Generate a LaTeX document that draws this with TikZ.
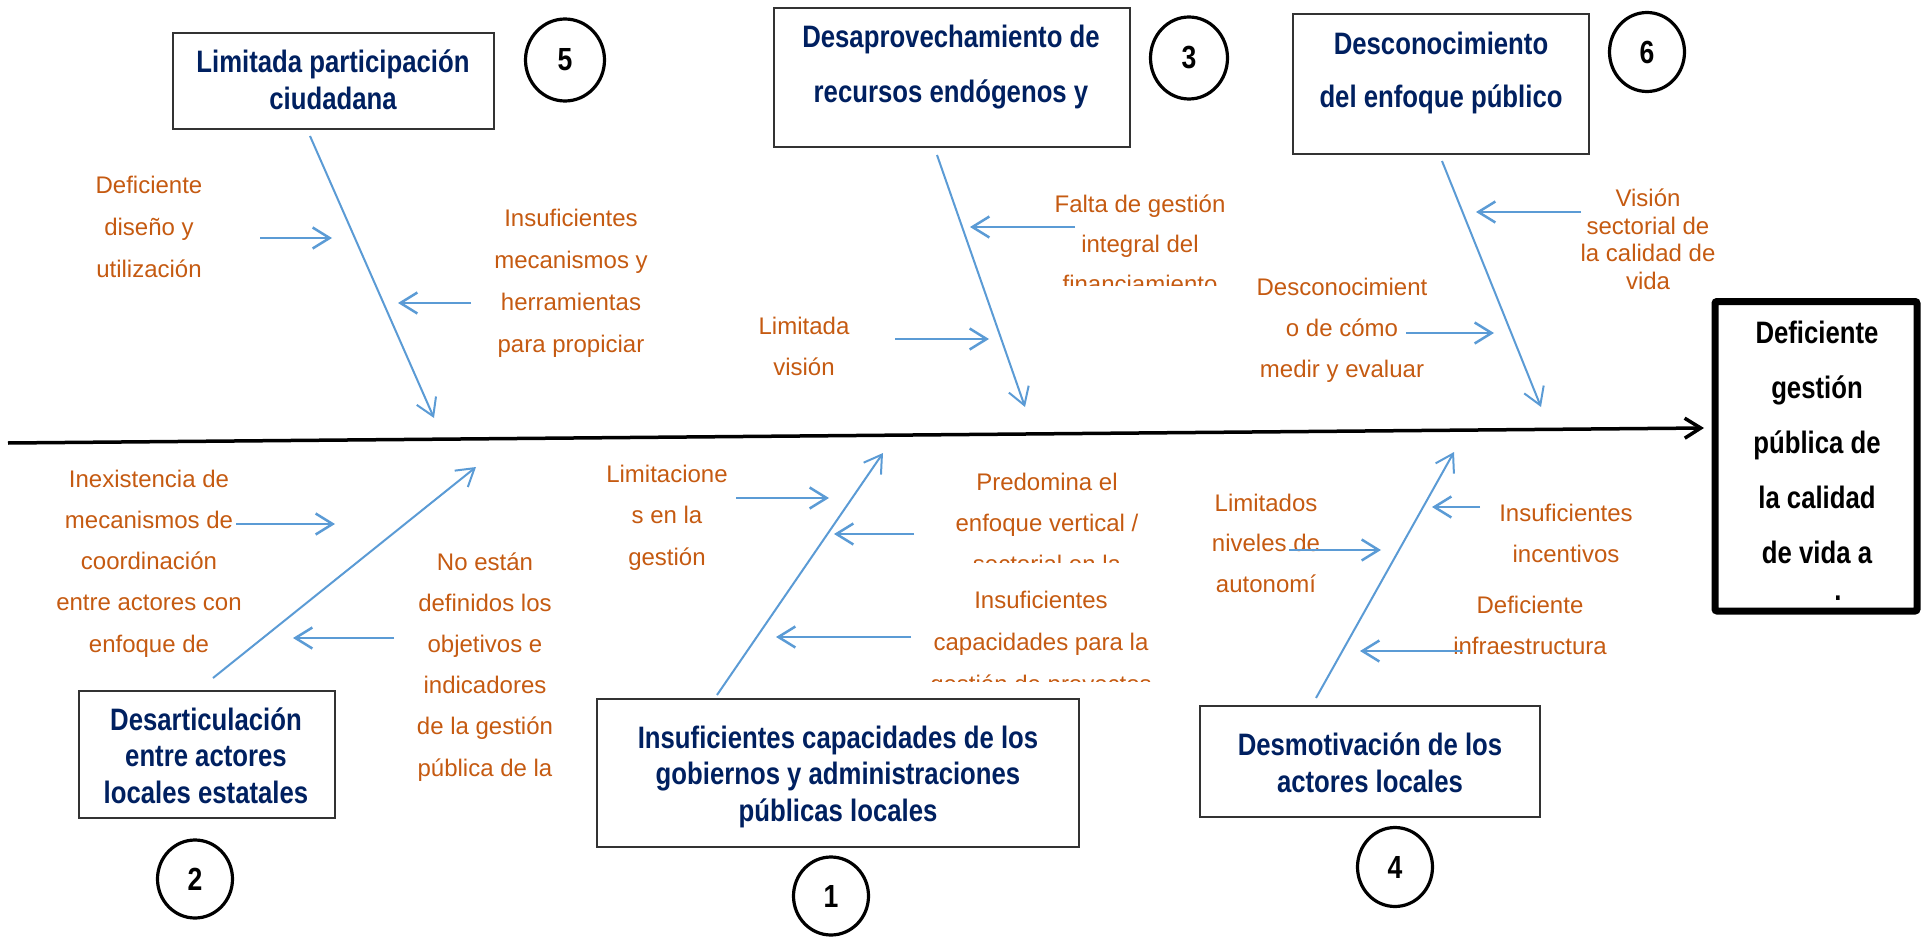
\documentclass[tikz,border=0pt]{standalone}
\usepackage{fontspec}
\setmainfont{Liberation Sans}
\newfontfamily\headfont[FakeStretch=0.83]{Liberation Sans}
\usetikzlibrary{arrows.meta,shapes.geometric}
\definecolor{causeorange}{HTML}{C55A11}
\definecolor{branchblue}{HTML}{5B9BD5}
\definecolor{headnavy}{HTML}{002060}
\begin{document}
\begin{tikzpicture}[x=1pt,y=-1pt,
  cause/.style={text=causeorange, font=\fontsize{24}{41.5}\selectfont, align=center, inner sep=0pt, anchor=base},
  head/.style={text=headnavy, font=\headfont\bfseries\fontsize{31}{37}\selectfont, align=center, inner sep=0pt, anchor=base},
  hbox/.style={draw=black!80, line width=1.5pt, inner sep=0pt},
  effbox/.style={draw=black, line width=7pt, rounded corners=2pt, inner sep=0pt},
  numc/.style={ellipse, draw=black, line width=3.2pt, inner sep=0pt, font=\headfont\bfseries\fontsize{32}{32}\selectfont},
  small/.style={draw=branchblue, line width=2.5pt, -{Straight Barb[length=17pt,width=21pt]}},
  branch/.style={draw=branchblue, line width=2pt, -{Straight Barb[length=17pt,width=21pt]}},
  spine/.style={draw=black, line width=3.5pt, -{Straight Barb[length=16pt,width=20pt]}}
]
\useasboundingbox (0,0) rectangle (1923,947);

% ---------- spine ----------
\coordinate (sp0) at (8,443);
\coordinate (sp1) at (1704,428);
\draw[spine] (sp0) -- (sp1);

% ---------- effect ----------
\node[effbox, minimum width=202pt, minimum height=309.5pt] (eff) at (1816,456.25) {};
\node[head, text=black, font=\headfont\bfseries\fontsize{31}{55}\selectfont] (efft) at (1817,563)
  {Deficiente\\gestión\\pública de\\la calidad\\de vida a};
\node[head, text=black] (effdot) at (1838,600) {.};

% ---------- cause boxes ----------
\node[hbox, minimum width=321pt, minimum height=96pt] (b5) at (333.5,81) {};
\node[head] (b5t) at (333,110) {Limitada participación\\ciudadana};

\node[hbox, minimum width=356pt, minimum height=139pt] (b3) at (952,77.5) {};
\node[head, font=\headfont\bfseries\fontsize{31}{55}\selectfont] (b3t) at (951,103) {Desaprovechamiento de\\recursos endógenos y};

\node[hbox, minimum width=296pt, minimum height=140pt] (b6) at (1441,84) {};
\node[head, font=\headfont\bfseries\fontsize{31}{53}\selectfont] (b6t) at (1441,108) {Desconocimiento\\del enfoque público};

\node[hbox, minimum width=256pt, minimum height=127pt] (b2) at (207,754.5) {};
\node[head, font=\headfont\bfseries\fontsize{31}{36.5}\selectfont] (b2t) at (206,803) {Desarticulación\\entre actores\\locales estatales};

\node[hbox, minimum width=482pt, minimum height=148pt] (b1) at (838,773) {};
\node[head, font=\headfont\bfseries\fontsize{31}{36.5}\selectfont] (b1t) at (838,821) {Insuficientes capacidades de los\\gobiernos y administraciones\\públicas locales};

\node[hbox, minimum width=340pt, minimum height=111pt] (b4) at (1370,761.5) {};
\node[head] (b4t) at (1370,792) {Desmotivación de los\\actores locales};

% ---------- numbers ----------
\node[numc, minimum width=79pt, minimum height=82pt] (c5) at (565,60) {5};
\node[numc, minimum width=77pt, minimum height=82pt] (c3) at (1189,58) {3};
\node[numc, minimum width=75pt, minimum height=79pt] (c6) at (1647,52) {6};
\node[numc, minimum width=75pt, minimum height=78pt] (c2) at (195,879) {2};
\node[numc, minimum width=75pt, minimum height=78pt] (c1) at (831,896) {1};
\node[numc, minimum width=75pt, minimum height=79pt] (c4) at (1395,867) {4};

% ---------- branches ----------
\coordinate (br5s) at (310,136);  \coordinate (br5e) at (434,418);
\coordinate (br3s) at (937,155);  \coordinate (br3e) at (1025,407);
\coordinate (br6s) at (1442,161); \coordinate (br6e) at (1541,407);
\coordinate (br2s) at (213,678);  \coordinate (br2e) at (476,467);
\coordinate (br1s) at (717,695);  \coordinate (br1e) at (883,453);
\coordinate (br4s) at (1316,698); \coordinate (br4e) at (1454,452);
\draw[branch] (br5s) -- (br5e);
\draw[branch] (br3s) -- (br3e);
\draw[branch] (br6s) -- (br6e);
\draw[branch] (br2s) -- (br2e);
\draw[branch] (br1s) -- (br1e);
\draw[branch] (br4s) -- (br4e);

% ---------- sub-causes (anchor = baseline of last line) ----------
\node[cause, font=\fontsize{24}{42}\selectfont] (o5a) at (149,277) {Deficiente\\diseño y\\utilización};
\node[cause, font=\fontsize{24}{41.7}\selectfont] (o5b) at (571,352) {Insuficientes\\mecanismos y\\herramientas\\para propiciar};
\node[cause, font=\fontsize{24}{40}\selectfont] (o3a) at (1140,252) {Falta de gestión\\integral del};
\begin{scope}
  \clip (1030,260) rectangle (1250,285);
  \node[cause] (o3a3) at (1140,292) {financiamiento};
\end{scope}
\node[cause, font=\fontsize{24}{41}\selectfont] (o3b) at (804,375) {Limitada\\visión};
\node[cause, font=\fontsize{24}{27.4}\selectfont] (o6a) at (1648,289) {Visión\\sectorial de\\la calidad de\\vida};
\node[cause, font=\fontsize{24}{41}\selectfont] (o6b) at (1342,377) {Desconocimient\\o de cómo\\medir y evaluar};
\node[cause, font=\fontsize{24}{41.25}\selectfont] (o2a) at (149,652) {Inexistencia de\\mecanismos de\\coordinación\\entre actores con\\enfoque de};
\node[cause, font=\fontsize{24}{41.2}\selectfont] (o2b) at (485,776) {No están\\definidos los\\objetivos e\\indicadores\\de la gestión\\pública de la};
\node[cause, font=\fontsize{24}{41.5}\selectfont] (o1a) at (667,565) {Limitacione\\s en la\\gestión};
\node[cause, font=\fontsize{24}{41}\selectfont] (o1b) at (1047,531) {Predomina el\\enfoque vertical /};
\begin{scope}
  \clip (930,540) rectangle (1170,562);
  \node[cause] (o1b3) at (1047,572) {sectorial en la};
\end{scope}
\node[cause, font=\fontsize{24}{42}\selectfont] (o1c) at (1041,650) {Insuficientes\\capacidades para la};
\begin{scope}
  \clip (900,660) rectangle (1180,681);
  \node[cause] (o1c3) at (1041,692) {gestión de proyectos};
\end{scope}
\node[cause, font=\fontsize{24}{40.5}\selectfont] (o4a) at (1266,592) {Limitados\\niveles de\\autonomí};
\node[cause, font=\fontsize{24}{41}\selectfont] (o4b) at (1566,562) {Insuficientes\\incentivos};
\node[cause, font=\fontsize{24}{41}\selectfont] (o4c) at (1530,654) {Deficiente\\infraestructura};

% ---------- small arrows ----------
\coordinate (a5as) at (260,238);  \coordinate (a5ae) at (332,238);
\coordinate (a5bs) at (471,303);  \coordinate (a5be) at (398,303);
\coordinate (a3as) at (1075,227); \coordinate (a3ae) at (970,227);
\coordinate (a3bs) at (895,339);  \coordinate (a3be) at (989,339);
\coordinate (a6as) at (1581,212); \coordinate (a6ae) at (1476,212);
\coordinate (a6bs) at (1406,333); \coordinate (a6be) at (1494,333);
\coordinate (a2as) at (236,524);  \coordinate (a2ae) at (335,524);
\coordinate (a2bs) at (394,638);  \coordinate (a2be) at (293,638);
\coordinate (a1as) at (736,498);  \coordinate (a1ae) at (829,498);
\coordinate (a1bs) at (914,534);  \coordinate (a1be) at (834,534);
\coordinate (a1cs) at (911,637);  \coordinate (a1ce) at (776,637);
\coordinate (a4as) at (1289,550); \coordinate (a4ae) at (1381,550);
\coordinate (a4bs) at (1480,507); \coordinate (a4be) at (1432,507);
\coordinate (a4cs) at (1463,651); \coordinate (a4ce) at (1360,651);
\foreach \a in {5a,5b,3a,3b,6a,6b,2a,2b,1a,1b,1c,4a,4b,4c}
  \draw[small] (a\a s) -- (a\a e);
\end{tikzpicture}
\end{document}
